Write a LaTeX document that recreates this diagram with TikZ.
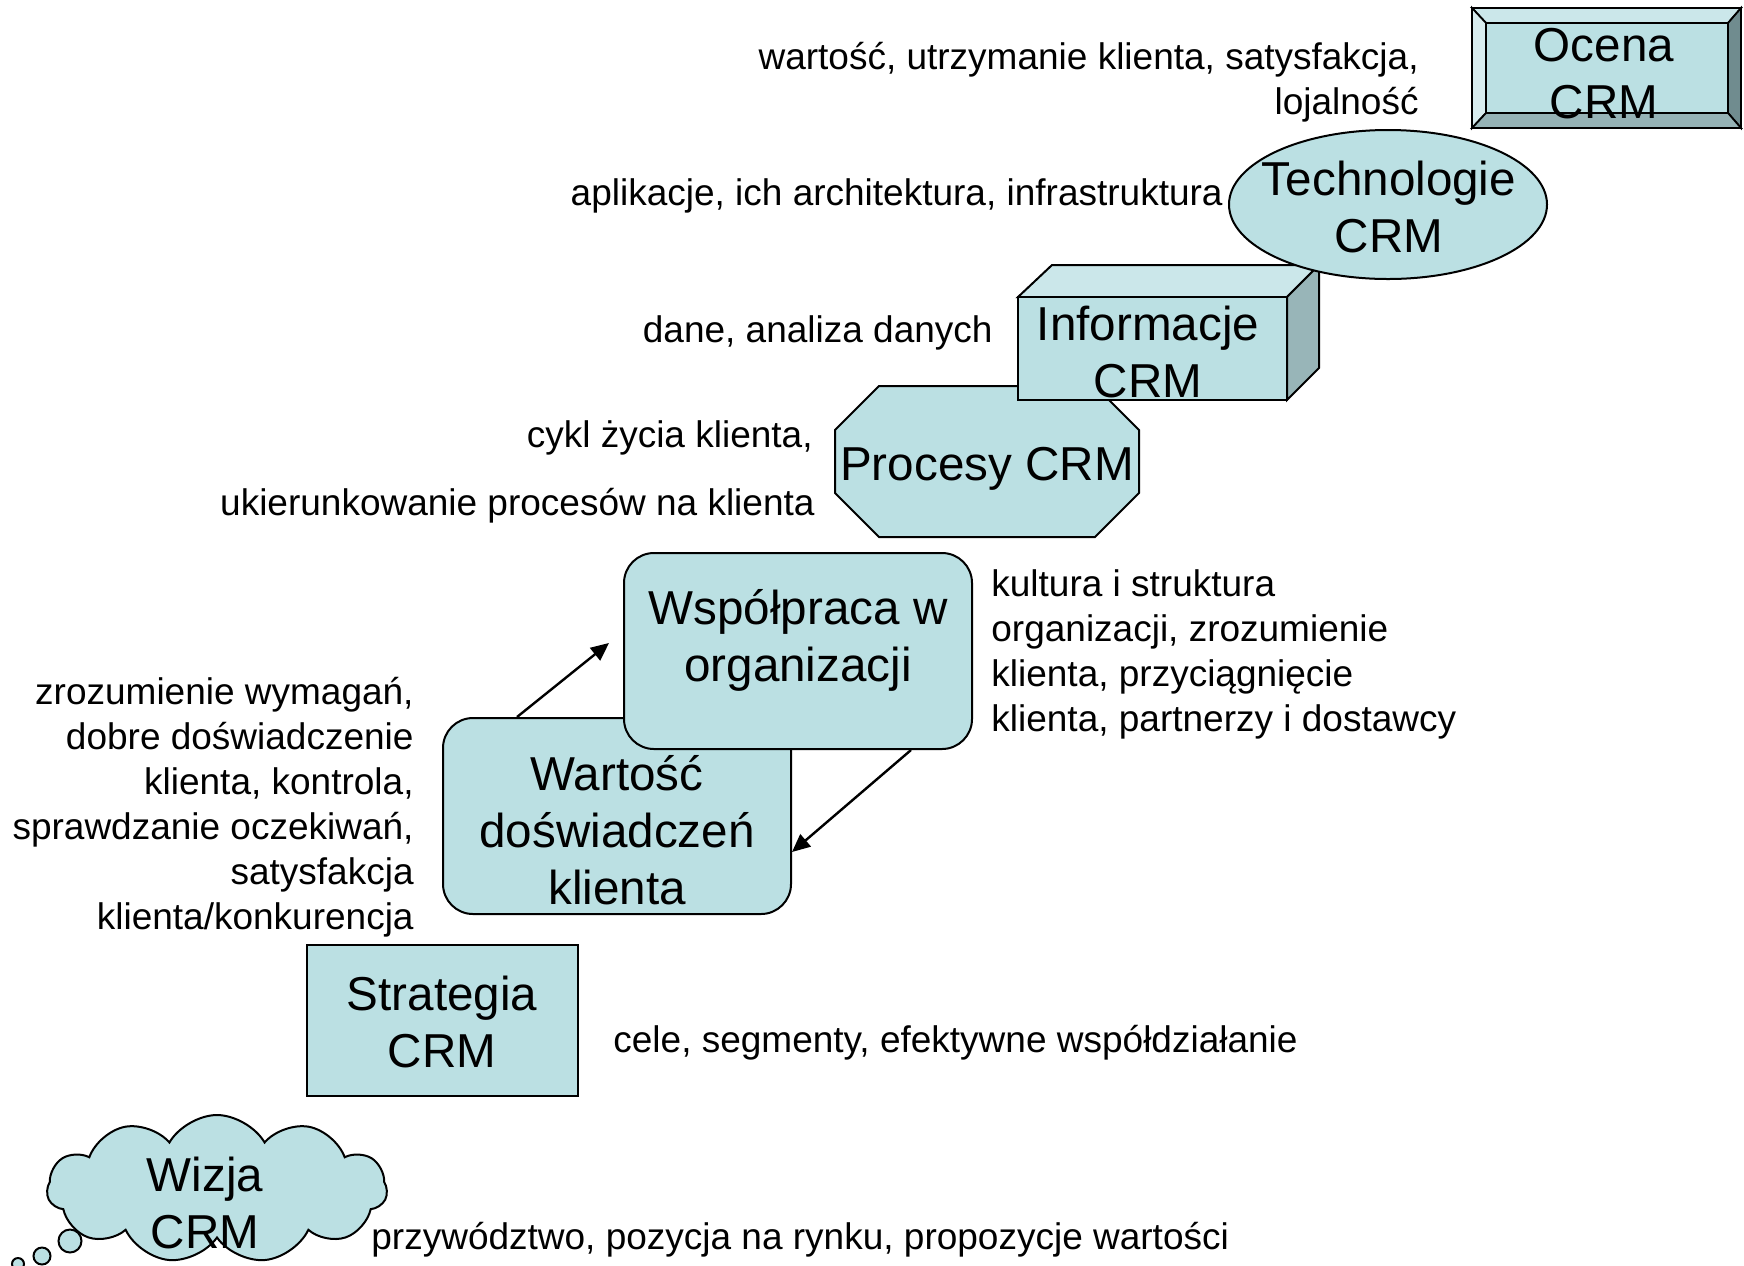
\documentclass[tikz,border=0pt]{standalone}
\usepackage{fontspec}
\setmainfont{Liberation Sans}
\usetikzlibrary{shapes.geometric,shapes.symbols,arrows.meta,calc}
\definecolor{crm}{HTML}{BBE0E3}
\definecolor{crmtop}{HTML}{CBE7EA}
\definecolor{crmleft}{HTML}{D8EDEF}
\definecolor{crmright}{HTML}{708C8F}
\definecolor{crmbot}{HTML}{96B3B6}
\definecolor{cubeside}{HTML}{98B5B8}
\newcommand{\mystrut}{\rule{0pt}{1em}}
\begin{document}
\begin{tikzpicture}[x=0.5pt,y=-0.5pt,
  shp/.style={draw=black, line width=1pt, fill=crm},
  edge/.style={draw=black, line width=0.9pt, line join=miter},
  sm/.style={font=\fontsize{18.5}{22.5}\selectfont, inner sep=0pt},
  bg/.style={font=\fontsize{23.8}{28.5}\selectfont, inner sep=0pt, align=center, anchor=north},
  arr/.style={line width=1.2pt, -{Triangle[length=9pt,width=8pt]}}]
\useasboundingbox (0,0) rectangle (1744,1265);

% Wizja CRM (cloud)
\node[shp, cloud, cloud puffs=11, cloud puff arc=120, aspect=2.3,
      minimum width=170pt, minimum height=74pt, inner sep=0pt] (wizja) at (217,1189) {};
\node[shp, circle, minimum size=11.5pt, inner sep=0pt] (bub1) at (70,1241) {};
\node[shp, circle, minimum size=8.5pt, inner sep=0pt] (bub2) at (42,1256) {};
\node[shp, circle, minimum size=6pt, inner sep=0pt] (bub3) at (18,1264) {};
\node[bg] (wizjaT) at (205,1143) {\mystrut Wizja\\CRM};

% Strategia CRM
\node[shp, rectangle, minimum width=135.5pt, minimum height=75.5pt, inner sep=0pt] (strat) at (442.5,1020.5) {};
\node[bg] (stratT) at (442,962) {\mystrut Strategia\\CRM};

% Wartosc doswiadczen klienta
\node[shp, rectangle, rounded corners=15pt, minimum width=174pt, minimum height=98pt, inner sep=0pt] (wart) at (617,816) {};
\node[bg] (wartT) at (617,742) {\mystrut Wartość\\doświadczeń\\klienta};

% Wspolpraca w organizacji
\node[shp, rectangle, rounded corners=15pt, minimum width=174pt, minimum height=98pt, inner sep=0pt] (wsp) at (798,651) {};
\node[bg] (wspT) at (798,576) {\mystrut Współpraca w\\organizacji};

% arrows
\coordinate (upTip) at (609,643);
\draw[arr] ($(wart.north west)+(75,0)$) -- (upTip);
\draw[arr] ($(wsp.south west)+(288,0)$) -- ($(wart.north east)+(0,135)$);

% Procesy CRM (octagon)
\path[shp] (879,386) -- (1095,386) -- (1139,430) -- (1139,493) -- (1095,537)
  -- (879,537) -- (835,493) -- (835,430) -- cycle;
\node[bg, anchor=base] (procT) at (987,480) {Procesy CRM};

% Informacje CRM (cube)
\path[shp, fill=crmtop] (1018,297) -- (1052,265) -- (1319,265) -- (1287,297) -- cycle;
\path[shp, fill=cubeside] (1287,297) -- (1319,265) -- (1319,368) -- (1287,400) -- cycle;
\path[shp] (1018,297) rectangle (1287,400);
\node[bg] (infT) at (1148,292) {\mystrut Informacje\\CRM};

% Technologie CRM (ellipse)
\node[shp, ellipse, minimum width=159pt, minimum height=74.5pt, inner sep=0pt] (tech) at (1388,204.5) {};
\node[bg] (techT) at (1389,147) {\mystrut Technologie\\CRM};

% Ocena CRM (bevel)
\path[edge, fill=crmtop] (1472,8) -- (1741,8) -- (1728,23) -- (1486,23) -- cycle;
\path[edge, fill=crmleft] (1472,8) -- (1486,23) -- (1486,113) -- (1472,128) -- cycle;
\path[edge, fill=crmright] (1741,8) -- (1741,128) -- (1728,113) -- (1728,23) -- cycle;
\path[edge, fill=crmbot] (1472,128) -- (1741,128) -- (1728,113) -- (1486,113) -- cycle;
\path[edge, fill=crm] (1486,23) rectangle (1728,113);
\node[bg] (ocenaT) at (1604,13) {\mystrut Ocena\\CRM};

% descriptions
\node[sm, align=right, anchor=north east] (dOcena) at (1419,32)
  {\mystrut wartość, utrzymanie klienta, satysfakcja,\\lojalność};
\node[sm, anchor=base east] (dTech) at (1223,205) {aplikacje, ich architektura, infrastruktura};
\node[sm, anchor=base east] (dInf) at (993,342) {dane, analiza danych};
\node[sm, anchor=base east] (dProc1) at (813,447) {cykl życia klienta,};
\node[sm, anchor=base east] (dProc2) at (815,515) {ukierunkowanie procesów na klienta};
\node[sm, align=left, anchor=north west] (dWsp) at (991,559)
  {\mystrut kultura i struktura\\organizacji, zrozumienie\\klienta, przyciągnięcie\\klienta, partnerzy i dostawcy};
\node[sm, align=right, anchor=north east] (dWart) at (414,667)
  {\mystrut zrozumienie wymagań,\\dobre doświadczenie\\klienta, kontrola,\\sprawdzanie oczekiwań,\\satysfakcja\\klienta/konkurencja};
\node[sm, anchor=base west] (dStrat) at (613,1052) {cele, segmenty, efektywne współdziałanie};
\node[sm, anchor=base west] (dWiz) at (371,1249) {przywództwo, pozycja na rynku, propozycje wartości};
\end{tikzpicture}
\end{document}
